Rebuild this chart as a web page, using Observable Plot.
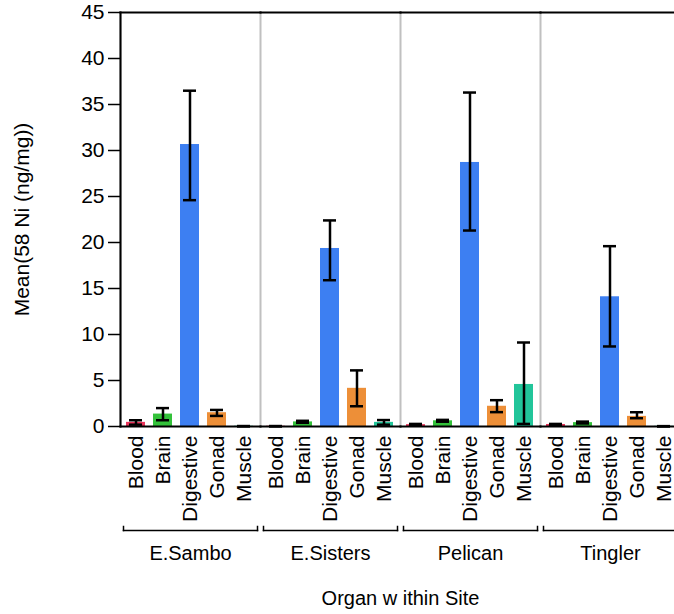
<!DOCTYPE html>
<html><head><meta charset="utf-8">
<script src="https://cdn.jsdelivr.net/npm/d3@7"></script>
<script src="https://cdn.jsdelivr.net/npm/@observablehq/plot@0.6"></script>
<style>html,body{margin:0;padding:0;overflow:hidden;background:#fff;} svg{display:block;}</style>
</head><body><div id="chart"></div>
<script>
const sites = ["E.Sambo", "E.Sisters", "Pelican", "Tingler"];
const organs = ["Blood", "Brain", "Digestive", "Gonad", "Muscle"];
const organColors = ["#e8345a", "#33c13a", "#3d7ff2", "#ed8f38", "#22c59a"];
// one row per site, one value per organ
const means = [
  [0.45, 1.35, 30.65, 1.5, 0.03],
  [0.03, 0.5, 19.35, 4.15, 0.45],
  [0.2, 0.62, 28.7, 2.2, 4.57],
  [0.22, 0.42, 14.1, 1.1, 0.02]
];
const lowerBars = [
  [0.2, 0.68, 24.6, 1.15, 0.01],
  [0.01, 0.4, 15.9, 2.2, 0.2],
  [0.12, 0.52, 21.3, 1.56, 0.28],
  [0.15, 0.33, 8.7, 0.9, 0.0]
];
const upperBars = [
  [0.68, 2.0, 36.5, 1.8, 0.05],
  [0.05, 0.62, 22.4, 6.1, 0.7],
  [0.28, 0.72, 36.3, 2.86, 9.13],
  [0.28, 0.53, 19.6, 1.55, 0.04]
];
const yTicks = [0, 5, 10, 15, 20, 25, 30, 35, 40, 45];

const rows = sites.flatMap((site, i) => organs.map((organ, j) => ({
  site, organ, mean: means[i][j], lo: lowerBars[i][j], hi: upperBars[i][j]
})));

const font = "'Liberation Sans', Arial, Helvetica, sans-serif";
const chart = Plot.plot({
  width: 674, height: 614,
  marginLeft: 120, marginRight: -6, marginTop: 12, marginBottom: 188,
  style: {fontFamily: font, fontSize: "19px", color: "#000", background: "#fff", overflow: "hidden", maxWidth: "none"},
  fx: {domain: sites, padding: 0},
  x: {domain: organs, paddingInner: 0.28, paddingOuter: 0.21, align: 0.5},
  y: {domain: [0, 45]},
  color: {domain: organs, range: organColors},
  marks: [
    Plot.frame({anchor: "left", stroke: "#c0c0c0", strokeWidth: 2}),
    Plot.barY(rows, {fx: "site", x: "organ", y: "mean", fill: "organ"}),
    Plot.ruleX(rows, {fx: "site", x: "organ", y1: "lo", y2: "hi", stroke: "#000", strokeWidth: 2.5}),
    Plot.tickY(rows, {fx: "site", x: "organ", y: "lo", stroke: "#000", strokeWidth: 2.5, inset: 3}),
    Plot.tickY(rows, {fx: "site", x: "organ", y: "hi", stroke: "#000", strokeWidth: 2.5, inset: 3}),
    Plot.frame({anchor: "top", stroke: "#000", strokeWidth: 2}),
    Plot.frame({anchor: "bottom", stroke: "#000", strokeWidth: 2}),
    Plot.frame({anchor: "left", stroke: "#000", strokeWidth: 2, facetAnchor: "left"}),
    // brackets below each site group
    Plot.frame({anchor: "bottom", stroke: "#000", strokeWidth: 1.5, insetLeft: 3, insetRight: 3, insetTop: 514, insetBottom: -104}),
    Plot.frame({anchor: "left", stroke: "#000", strokeWidth: 1.5, insetLeft: 3, insetRight: 3, insetTop: 514, insetBottom: -104}),
    Plot.frame({anchor: "right", stroke: "#000", strokeWidth: 1.5, insetLeft: 3, insetRight: 3, insetTop: 514, insetBottom: -104}),
    Plot.axisY({ticks: yTicks, tickSize: 12, tickPadding: 4, strokeWidth: 1.5, fontSize: 21,
      label: "Mean(58 Ni (ng/mg))", labelAnchor: "center", labelOffset: 106, labelArrow: "none"}),
    Plot.axisX({tickRotate: -90, tickSize: 0, tickPadding: 9, fontSize: 21, label: null}),
    Plot.axisFx({anchor: "bottom", tickSize: 0, tickPadding: 119, fontSize: 20, label: "Organ w ithin Site",
      labelAnchor: "center", labelOffset: 178, labelArrow: "none"})
  ]
});
document.getElementById("chart").appendChild(chart);
</script>
</body></html>
